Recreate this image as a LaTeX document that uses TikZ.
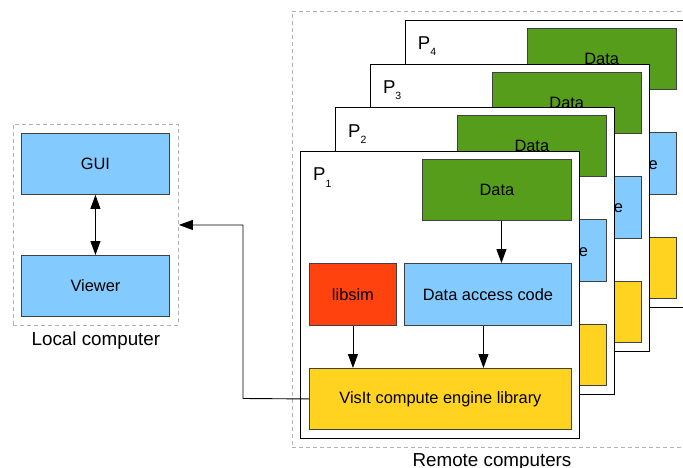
\documentclass[tikz,border=0pt]{standalone}
\usepackage{fontspec}
\setmainfont{Liberation Sans}
\usetikzlibrary{arrows.meta}
\definecolor{dgreen}{HTML}{579D1C}
\definecolor{lred}{HTML}{FF420E}
\definecolor{lblue}{HTML}{83CAFF}
\definecolor{lyellow}{HTML}{FFD320}
\begin{document}
\begin{tikzpicture}[x=1pt,y=-1pt,
  box/.style={draw=black!75, line width=0.9pt, inner sep=0pt, anchor=north west, font=\fontsize{16.4}{19}\selectfont},
  panel/.style={draw=black, fill=white, line width=1pt, inner sep=0pt, anchor=north west},
  arr/.style={-{Triangle[length=14pt,width=10pt]}, line width=0.9pt},
  dashbox/.style={draw=black!30, line width=0.9pt, dash pattern=on 4pt off 3pt, inner sep=0pt, anchor=north west},
  lbl/.style={font=\fontsize{18.8}{22}\selectfont, inner sep=0pt}]
\useasboundingbox (0,0) rectangle (683,468);
\clip (0,0) rectangle (683,468);

% Remote computers group
\node[dashbox, minimum width=400pt, minimum height=436pt] (remote) at (292,11) {};
\node[lbl, anchor=base] (remlbl) at (492,466) {Remote computers};

\foreach \k/\n in {3/4,2/3,1/2,0/1} {
  \begin{scope}[shift={(34.9*\k,-43.7*\k)}]
    \node[panel, minimum width=279pt, minimum height=287pt] (panel\n) at (300,151) {};
    \node[anchor=base west, inner sep=0pt, font=\fontsize{18.6}{22}\selectfont] (plbl\n) at (313,181) {P\raisebox{-6pt}{\fontsize{10.5}{12}\selectfont\n}};
    \node[box, fill=dgreen, minimum width=149pt, minimum height=61pt] (data\n) at (422,159) {Data};
    \node[box, fill=lred, minimum width=87pt, minimum height=62pt] (libsim\n) at (309,263) {libsim};
    \node[box, fill=lblue, minimum width=167pt, minimum height=62pt] (dac\n) at (404,263) {Data access code};
    \node[box, fill=lyellow, minimum width=262pt, minimum height=61pt] (eng\n) at (309,368) {VisIt compute engine library};
    \draw[arr] ([xshift=4.5pt]data\n.south) -- ([xshift=4.5pt]data\n.south |- dac\n.north);
    \draw[arr] (libsim\n.south) -- (libsim\n.south |- eng\n.north);
    \draw[arr] ([xshift=-4.5pt]dac\n.south) -- ([xshift=-4.5pt]dac\n.south |- eng\n.north);
  \end{scope}
}

% Local computer group
\node[dashbox, minimum width=165pt, minimum height=201pt] (local) at (13,124) {};
\node[box, fill=lblue, minimum width=148pt, minimum height=61pt] (gui) at (21,133) {GUI};
\node[box, fill=lblue, minimum width=148pt, minimum height=61pt] (viewer) at (21,255) {Viewer};
\draw[{Triangle[length=14pt,width=10pt]}-{Triangle[length=14pt,width=10pt]}, line width=0.9pt] (gui) -- (viewer);
\node[lbl, anchor=base] (loclbl) at ([yshift=-20pt]local.south) {Local computer};

% Connector from engine to local computer
\coordinate (turn) at (243,398.5);
\draw[arr] (eng1.west) -- (turn) |- (local.east);
\end{tikzpicture}
\end{document}
